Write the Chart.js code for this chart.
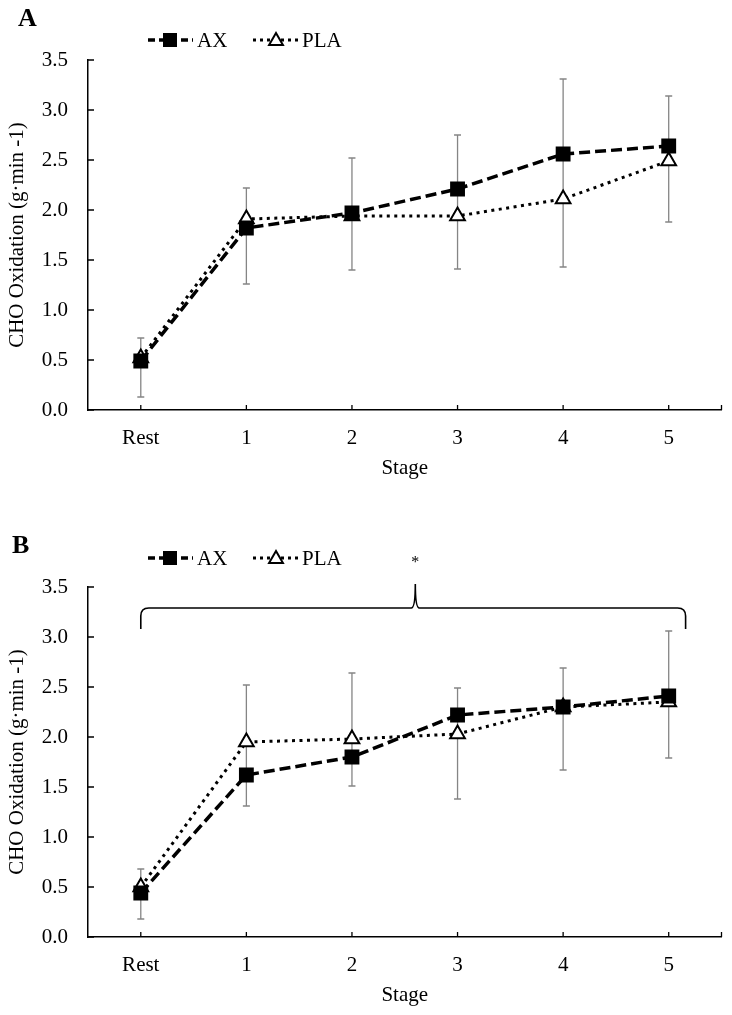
<!DOCTYPE html>
<html>
<head>
<meta charset="utf-8">
<script src="https://cdn.jsdelivr.net/npm/chart.js@4"></script>
<style>
  html, body { margin: 0; padding: 0; background: #fff; }
  #wrap { width: 732px; height: 1015px; position: relative; }
  canvas { display: block; }
</style>
</head>
<body>
<div id="wrap">
  <canvas id="cA" width="732" height="490" style="width:732px;height:490px"></canvas>
  <canvas id="cB" width="732" height="525" style="width:732px;height:525px"></canvas>
</div>
<script>
// ---------- DATA ----------
const categories = ['Rest', '1', '2', '3', '4', '5'];
const yTickValues = [0.0, 0.5, 1.0, 1.5, 2.0, 2.5, 3.0, 3.5];

// Panel A
const axA  = [0.49, 1.82, 1.97, 2.21, 2.56, 2.64];
const plaA = [0.52, 1.91, 1.94, 1.94, 2.11, 2.49];
const errLowA  = [0.13, 1.26, 1.40, 1.41, 1.43, 1.88];
const errHighA = [0.72, 2.22, 2.52, 2.75, 3.31, 3.14];

// Panel B
const axB  = [0.44, 1.62, 1.80, 2.22, 2.30, 2.41];
const plaB = [0.50, 1.95, 1.98, 2.03, 2.30, 2.35];
const errLowB  = [0.18, 1.31, 1.51, 1.38, 1.67, 1.79];
const errHighB = [0.68, 2.52, 2.64, 2.49, 2.69, 3.06];

// Significance brace in panel B (category index / data units)
const braceLeft = 0.0, braceRight = 5.16, bracePeak = 2.6;
const braceLevel = 3.29, braceEndLevel = 3.08, bracePeakLevel = 3.53, starLevel = 3.77;

const seriesNames = ['AX', 'PLA'];
const yTitle = 'CHO Oxidation (g\u00B7min -1)';
const xTitle = 'Stage';

// ---------- STYLE ----------
const FONT = "'Liberation Serif', 'Times New Roman', serif";
const FS = 21;
const AX_DASH = [11, 5];
const PLA_DASH = [3, 4.5];

function drawSquare(ctx, x, y, s) {
  ctx.fillStyle = '#000';
  ctx.fillRect(x - s / 2, y - s / 2, s, s);
}
function drawTri(ctx, x, y, r) {
  ctx.beginPath();
  for (let i = 0; i < 3; i++) {
    const a = -Math.PI / 2 + i * 2 * Math.PI / 3;
    const px = x + Math.cos(a) * r, py = y + Math.sin(a) * r;
    if (i === 0) ctx.moveTo(px, py); else ctx.lineTo(px, py);
  }
  ctx.closePath();
  ctx.fillStyle = '#fff';
  ctx.fill();
  ctx.lineWidth = 2;
  ctx.strokeStyle = '#000';
  ctx.setLineDash([]);
  ctx.stroke();
}

const overlayPlugin = {
  id: 'overlay',
  beforeDatasetsDraw(chart) {
    const o = chart.options.plugins.overlay;
    const ctx = chart.ctx, x = chart.scales.x, y = chart.scales.y;
    ctx.save();
    ctx.strokeStyle = '#858585';
    ctx.lineWidth = 1.3;
    ctx.setLineDash([]);
    o.errLow.forEach((lo, i) => {
      const px = x.getPixelForValue(i);
      const y1 = y.getPixelForValue(lo), y2 = y.getPixelForValue(o.errHigh[i]);
      ctx.beginPath();
      ctx.moveTo(px, y1); ctx.lineTo(px, y2);
      ctx.moveTo(px - 3.5, y1); ctx.lineTo(px + 3.5, y1);
      ctx.moveTo(px - 3.5, y2); ctx.lineTo(px + 3.5, y2);
      ctx.stroke();
    });
    ctx.restore();
  },
  afterDraw(chart) {
    const o = chart.options.plugins.overlay;
    const ctx = chart.ctx, x = chart.scales.x, y = chart.scales.y;
    const area = chart.chartArea;
    ctx.save();
    // inside ticks
    ctx.strokeStyle = '#000';
    ctx.lineWidth = 1.3;
    ctx.setLineDash([]);
    ctx.beginPath();
    yTickValues.forEach(v => {
      const py = y.getPixelForValue(v);
      ctx.moveTo(area.left, py); ctx.lineTo(area.left + 6, py);
    });
    categories.forEach((c, i) => {
      const px = x.getPixelForValue(i);
      ctx.moveTo(px, area.bottom); ctx.lineTo(px, area.bottom - 5);
    });
    ctx.moveTo(area.right, area.bottom); ctx.lineTo(area.right, area.bottom - 5);
    ctx.stroke();

    // panel letter
    ctx.fillStyle = '#000';
    ctx.font = "bold 26px " + FONT;
    ctx.textBaseline = 'middle';
    ctx.textAlign = 'left';
    ctx.fillText(o.letter, o.letterX, o.letterY);

    // legend
    const ly = o.legendY;
    ctx.lineWidth = 3.5;
    ctx.lineCap = 'butt';
    ctx.setLineDash([7, 4]);
    ctx.beginPath(); ctx.moveTo(148, ly); ctx.lineTo(193, ly); ctx.stroke();
    drawSquare(ctx, 170, ly, 14);
    ctx.lineWidth = 3;
    ctx.setLineDash([3, 4]);
    ctx.beginPath(); ctx.moveTo(253, ly); ctx.lineTo(298, ly); ctx.stroke();
    drawTri(ctx, 276, ly + 1, 8);
    ctx.font = FS + "px " + FONT;
    ctx.fillStyle = '#000';
    ctx.fillText(seriesNames[0], 197, ly + 1);
    ctx.fillText(seriesNames[1], 302, ly + 1);

    // brace
    if (o.brace) {
      const L = x.getPixelForValue(braceLeft), R = x.getPixelForValue(braceRight);
      const P = x.getPixelForValue(bracePeak);
      const yb = y.getPixelForValue(braceLevel), ye = y.getPixelForValue(braceEndLevel);
      const yp = y.getPixelForValue(bracePeakLevel);
      const r = 8;
      ctx.lineWidth = 1.6;
      ctx.setLineDash([]);
      ctx.beginPath();
      ctx.moveTo(L, ye);
      ctx.lineTo(L, yb + r);
      ctx.quadraticCurveTo(L, yb, L + r, yb);
      ctx.lineTo(P - 4, yb);
      ctx.quadraticCurveTo(P, yb, P, yp);
      ctx.quadraticCurveTo(P, yb, P + 4, yb);
      ctx.lineTo(R - r, yb);
      ctx.quadraticCurveTo(R, yb, R, yb + r);
      ctx.lineTo(R, ye);
      ctx.stroke();
      ctx.font = "16px " + FONT;
      ctx.textAlign = 'center';
      ctx.fillText('*', P, y.getPixelForValue(starLevel) + 3);
    }
    ctx.restore();
  }
};

function makeChart(id, ax, pla, errLow, errHigh, cfg) {
  return new Chart(document.getElementById(id), {
    type: 'line',
    data: {
      labels: categories,
      datasets: [
        {
          label: seriesNames[0], data: ax,
          borderColor: '#000', borderWidth: 3.5, borderDash: AX_DASH,
          pointStyle: 'rect', pointRadius: 10.5, pointBackgroundColor: '#000',
          pointBorderColor: '#000', pointBorderWidth: 0, tension: 0, fill: false
        },
        {
          label: seriesNames[1], data: pla,
          borderColor: '#000', borderWidth: 3, borderDash: PLA_DASH,
          pointStyle: 'triangle', pointRadius: 8.5, pointBackgroundColor: '#fff',
          pointBorderColor: '#000', pointBorderWidth: 2, tension: 0, fill: false
        }
      ]
    },
    options: {
      responsive: false,
      animation: false,
      events: [],
      layout: { padding: { left: 0, right: 5, top: cfg.top, bottom: 0 } },
      plugins: {
        legend: { display: false },
        tooltip: { enabled: false },
        overlay: { errLow, errHigh, letter: cfg.letter, letterX: cfg.letterX, letterY: cfg.letterY,
                   legendY: cfg.legendY, brace: cfg.brace }
      },
      scales: {
        x: {
          type: 'category', offset: true,
          grid: { display: true, drawOnChartArea: false, drawTicks: false, offset: false },
          border: { display: true, color: '#000', width: 1.5 },
          ticks: { color: '#000', font: { family: FONT, size: FS }, padding: 16, maxRotation: 0 },
          title: { display: true, text: xTitle, color: '#000',
                   font: { family: FONT, size: FS }, padding: { top: 0, bottom: cfg.xTitlePad } },
          afterFit(s) { s.height = cfg.xHeight; }
        },
        y: {
          min: 0, max: 3.5,
          afterBuildTicks(s) { s.ticks = yTickValues.map(v => ({ value: v })); },
          grid: { display: true, drawOnChartArea: false, drawTicks: false },
          border: { display: true, color: '#000', width: 1.5 },
          ticks: { color: '#000', font: { family: FONT, size: FS }, padding: 20,
                   callback: v => Number(v).toFixed(1) },
          title: { display: true, text: yTitle, color: '#000',
                   font: { family: FONT, size: FS }, padding: { top: 5, bottom: 0 } },
          afterFit(s) { s.width = 88; }
        }
      }
    },
    plugins: [overlayPlugin]
  });
}

makeChart('cA', axA, plaA, errLowA, errHighA,
  { top: 60, xHeight: 80, xTitlePad: 9, letter: 'A', letterX: 18, letterY: 19, legendY: 40, brace: false });
makeChart('cB', axB, plaB, errLowB, errHighB,
  { top: 97, xHeight: 78, xTitlePad: 7, letter: 'B', letterX: 12, letterY: 56, legendY: 68, brace: true });
</script>
</body>
</html>
